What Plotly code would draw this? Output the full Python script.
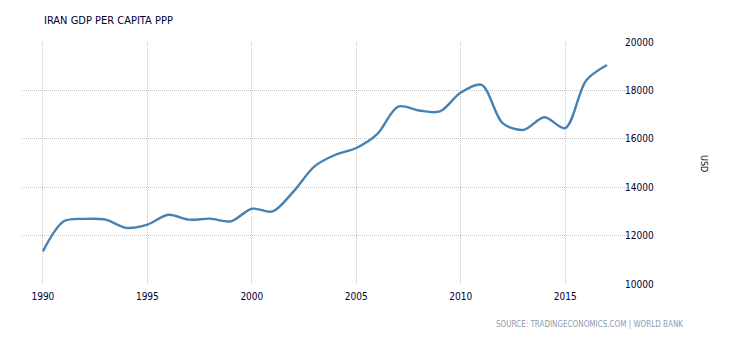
import plotly.graph_objects as go

# Iran GDP per capita, PPP (USD)
years = list(range(1990, 2018))
gdp_per_capita = [
    11350, 12590, 12690, 12660, 12320, 12450, 12860, 12660, 12700, 12590,
    13110, 13000, 13830, 14860, 15340, 15620, 16190, 17330, 17170, 17130,
    17910, 18230, 16650, 16370, 16890, 16440, 18410, 19050,
]
x_ticks = [1990, 1995, 2000, 2005, 2010, 2015]
y_ticks = [10000, 12000, 14000, 16000, 18000, 20000]

title_text = "IRAN GDP PER CAPITA PPP"
unit_text = "USD"
source_text = "SOURCE: TRADINGECONOMICS.COM | WORLD BANK"

font_family = "DejaVu Sans Condensed, Liberation Sans, Arial, sans-serif"
grid_color = "#c4c4c4"
label_color = "#000033"

fig = go.Figure()
fig.add_trace(go.Scatter(
    x=years,
    y=gdp_per_capita,
    mode="lines",
    line=dict(color="#4682b4", width=2.4, shape="spline", smoothing=0.9),
    hoverinfo="x+y",
))

# y tick labels sit flush against the right edge of the grid
y_labels = [
    dict(
        text=str(v), xref="paper", yref="y",
        x=1.0, y=v, xanchor="left", yanchor="middle",
        xshift=-6, showarrow=False, borderpad=0,
        font=dict(family=font_family, size=10, color=label_color),
    )
    for v in y_ticks
]

fig.update_layout(
    width=730,
    height=340,
    margin=dict(l=22, r=100, t=42, b=56),
    paper_bgcolor="white",
    plot_bgcolor="white",
    showlegend=False,
    font=dict(family=font_family, size=10, color=label_color),
    xaxis=dict(
        range=[1989.0, 2018.1],
        tickvals=x_ticks,
        ticktext=[str(v) for v in x_ticks],
        showgrid=True,
        gridcolor=grid_color,
        griddash="1px,1px",
        gridwidth=1,
        zeroline=False,
        showline=False,
        ticks="",
        ticklabelstandoff=5,
        tickfont=dict(size=10, color=label_color),
    ),
    yaxis=dict(
        range=[10000, 20000],
        tickvals=y_ticks,
        side="right",
        showgrid=True,
        gridcolor=grid_color,
        griddash="1px,1px",
        gridwidth=1,
        zeroline=False,
        showline=False,
        ticks="",
        showticklabels=False,
    ),
    annotations=y_labels + [
        dict(
            text=title_text, xref="paper", yref="paper",
            x=-0.0, y=1.0, xanchor="left", yanchor="bottom",
            xshift=20, yshift=13, showarrow=False,
            font=dict(family=font_family, size=11, color=label_color),
        ),
        dict(
            text=unit_text, xref="paper", yref="paper",
            x=1.0, y=0.5, xanchor="center", yanchor="middle",
            xshift=74, showarrow=False, textangle=90,
            font=dict(family=font_family, size=9, color=label_color),
        ),
        dict(
            text=source_text, xref="paper", yref="paper",
            x=1.0, y=0.0, xanchor="right", yanchor="top",
            xshift=55, yshift=-34, showarrow=False,
            font=dict(family=font_family, size=8, color="#8c9bb0"),
        ),
    ],
)

fig.write_html("out.html")
